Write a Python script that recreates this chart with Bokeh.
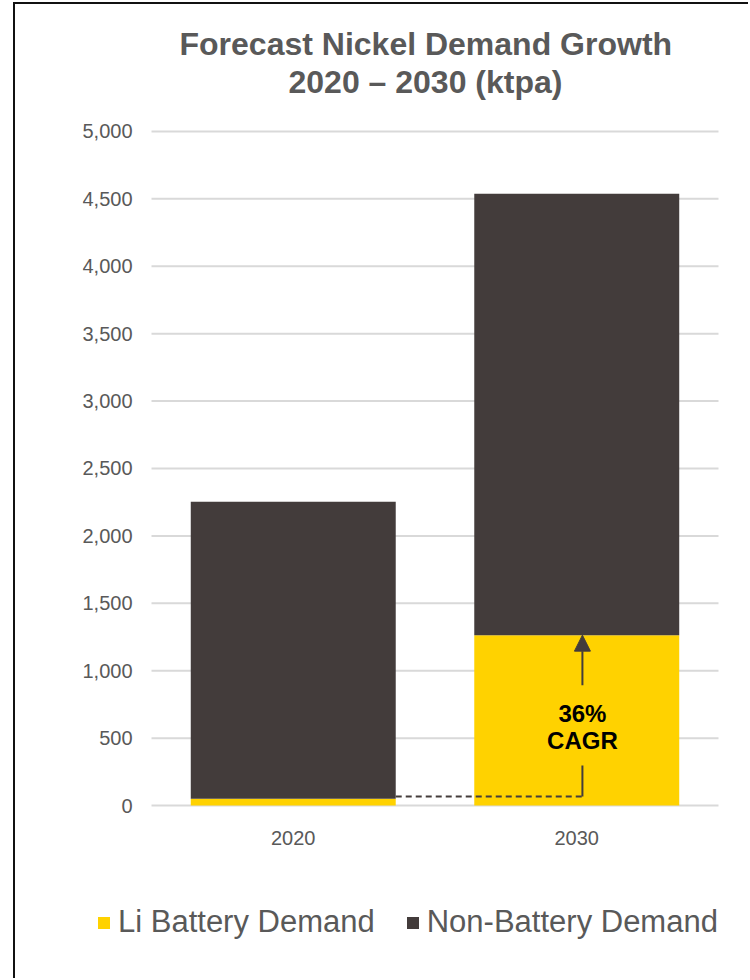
from bokeh.plotting import figure
from bokeh.models import (Range1d, FixedTicker, NumeralTickFormatter, Label, Title,
                          Arrow, NormalHead, Legend, LegendItem, ColumnDataSource)
from bokeh.embed import file_html
from bokeh.resources import INLINE

# ---- data ----
years = ["2020", "2030"]
li_battery = [50, 1264]
non_battery = [2203, 3273]
series_names = ["Li Battery Demand", "Non-Battery Demand"]
y_ticks = [0, 500, 1000, 1500, 2000, 2500, 3000, 3500, 4000, 4500, 5000]
title_lines = ["Forecast Nickel Demand Growth", "2020 \u2013 2030 (ktpa)"]
cagr_lines = ["36%", "CAGR"]

YELLOW = "#FFD200"
DARK = "#433C3B"
GREY = "#595959"
FONT = "Liberation Sans"

BAR_W = 0.723
xpos = list(range(len(years)))          # category slots: 0, 1
x_lo, x_hi = -0.5, len(years) - 0.5     # extent of the category area

# The frame is wider/taller than the gridded area so the legend fits inside it;
# both axes are pinned to the edges of the gridded area.
p = figure(x_range=Range1d(-0.7434, 1.6129), y_range=Range1d(-1001, 5237), title=None,
           width=735, height=976, output_backend="svg", toolbar_location=None,
           min_border_left=67, min_border_right=0, min_border_top=95, min_border_bottom=40)
p.styles = {"margin-left": "13px", "margin-top": "2px",
            "border-left": "2px solid #111111", "border-top": "2px solid #111111"}

# horizontal gridlines limited to the category area
p.segment(x0=[x_lo] * len(y_ticks), y0=y_ticks, x1=[x_hi] * len(y_ticks), y1=y_ticks,
          line_color="#D9D9D9", line_width=2)

src = ColumnDataSource(dict(x=xpos, li=li_battery, non=non_battery))
rs = p.vbar_stack(["li", "non"], x="x", width=BAR_W, color=[YELLOW, DARK], source=src, line_width=0)

# axes
p.yaxis.ticker = FixedTicker(ticks=y_ticks)
p.yaxis.formatter = NumeralTickFormatter(format="0,0")
p.yaxis.fixed_location = x_lo - 0.007
p.xaxis.ticker = FixedTicker(ticks=xpos)
p.xaxis.major_label_overrides = {i: y for i, y in zip(xpos, years)}
p.xaxis.fixed_location = -40
for ax in (p.xaxis[0], p.yaxis[0]):
    ax.axis_line_color = None
    ax.major_tick_line_color = None
    ax.minor_tick_line_color = None
    ax.major_tick_out = 0
    ax.major_tick_in = 0
    ax.major_label_text_font = FONT
    ax.major_label_text_font_size = "20px"
    ax.major_label_text_color = GREY
p.yaxis.major_label_standoff = 17
p.xaxis.major_label_standoff = 20

p.outline_line_color = None
p.xgrid.grid_line_color = None
p.ygrid.grid_line_color = None

# title: second line nearest the frame, then first line above it
for t, off in [(title_lines[1], 206), (title_lines[0], 97)]:
    p.add_layout(Title(text=t, align="left", offset=off, standoff=0,
                       text_font=FONT, text_font_style="bold",
                       text_font_size="32px", text_color=GREY), "above")

# CAGR annotation
i2030 = years.index("2030")
i2020 = years.index("2020")
arrow_x = xpos[i2030] + 0.02
dash_y = li_battery[i2020] + 17
p.segment(x0=xpos[i2020] + BAR_W / 2, y0=dash_y, x1=arrow_x, y1=dash_y,
          line_color=DARK, line_width=2, line_dash="6 4")
p.segment(x0=arrow_x, y0=dash_y, x1=arrow_x, y1=297, line_color=DARK, line_width=2)
p.add_layout(Arrow(x_start=arrow_x, y_start=892, x_end=arrow_x, y_end=li_battery[i2030],
                   line_color=DARK, line_width=2,
                   end=NormalHead(size=16, fill_color=DARK, line_color=DARK)))
for t, yy in zip(cagr_lines, [682, 483]):
    p.add_layout(Label(x=arrow_x, y=yy, text=t, text_align="center", text_baseline="middle",
                       text_font=FONT, text_font_style="bold", text_font_size="24px",
                       text_color="#000000"))

legend = Legend(items=[LegendItem(label=series_names[k], renderers=[rs[k]]) for k in range(2)],
                orientation="horizontal", location=(14, 0),
                label_text_font=FONT, label_text_font_size="31px", label_text_color=GREY,
                glyph_width=15, glyph_height=15, label_standoff=7, spacing=30,
                padding=0, margin=0, border_line_color=None, background_fill_alpha=0)
p.add_layout(legend)

open("out.html", "w").write(file_html(p, INLINE))
